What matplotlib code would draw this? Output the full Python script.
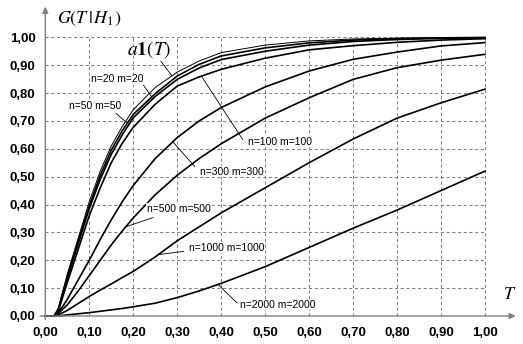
import numpy as np
import matplotlib
matplotlib.use('Agg')
import matplotlib.pyplot as plt

# threshold T (shared by every curve)
T = [0.0, 0.02, 0.03, 0.04, 0.05, 0.075, 0.1, 0.125, 0.15, 0.175, 0.2,
     0.25, 0.3, 0.35, 0.4, 0.5, 0.6, 0.7, 0.8, 0.9, 1.0]

# asymptotic curve a1(T)
a1 = [0, 0, 0.03, 0.09, 0.15, 0.28, 0.41, 0.52, 0.61, 0.68, 0.74,
      0.82, 0.875, 0.915, 0.945, 0.972, 0.987, 0.994, 0.997, 0.999, 1.0]

# G(T|H1) for n = m
g20 = [0, 0, 0.025, 0.085, 0.14, 0.27, 0.395, 0.505, 0.595, 0.665, 0.723,
       0.798, 0.861, 0.903, 0.933, 0.962, 0.98, 0.99, 0.995, 0.998, 0.999]
g50 = [0, 0, 0.025, 0.08, 0.135, 0.26, 0.385, 0.49, 0.58, 0.65, 0.711,
       0.788, 0.849, 0.89, 0.92, 0.95, 0.972, 0.985, 0.992, 0.996, 0.998]
g100 = [0, 0, 0.02, 0.07, 0.12, 0.24, 0.36, 0.46, 0.55, 0.62, 0.677,
        0.76, 0.825, 0.858, 0.885, 0.925, 0.955, 0.97, 0.982, 0.99, 0.995]
g300 = [0, 0, 0.015, 0.035, 0.06, 0.13, 0.2, 0.275, 0.345, 0.41, 0.468,
        0.565, 0.64, 0.7, 0.748, 0.822, 0.879, 0.921, 0.947, 0.969, 0.981]
g500 = [0, 0, 0.01, 0.025, 0.04, 0.09, 0.145, 0.2, 0.255, 0.305, 0.352,
        0.435, 0.505, 0.565, 0.618, 0.71, 0.783, 0.849, 0.891, 0.918, 0.939]
g1000 = [0, 0, 0.005, 0.012, 0.02, 0.045, 0.07, 0.093, 0.115, 0.138, 0.16,
         0.212, 0.27, 0.32, 0.37, 0.46, 0.55, 0.635, 0.71, 0.765, 0.814]
g2000 = [0, 0, 0.001, 0.002, 0.004, 0.008, 0.012, 0.017, 0.022, 0.027, 0.033,
         0.046, 0.066, 0.09, 0.117, 0.177, 0.246, 0.315, 0.38, 0.45, 0.52]

curves = [g20, g50, g100, g300, g500, g1000, g2000]
names = ['n=20 m=20', 'n=50 m=50', 'n=100 m=100', 'n=300 m=300',
         'n=500 m=500', 'n=1000 m=1000', 'n=2000 m=2000']

ticks = np.round(np.arange(0, 1.01, 0.1), 2)
tick_labels = [('%.2f' % v).replace('.', ',') for v in ticks]

# label placement: text anchor, leader start, T where leader hits curve
label_xy = [(0.105, 0.849), (0.055, 0.752), (0.461, 0.626), (0.352, 0.518),
            (0.231, 0.385), (0.327, 0.245), (0.442, 0.040)]
lead_from = [(0.222, 0.831), (0.161, 0.727), (0.449, 0.633), (0.340, 0.536),
             (0.245, 0.353), (0.315, 0.232), (0.436, 0.047)]
lead_T = [0.242, 0.19, 0.355, 0.29, 0.183, 0.257, 0.393]

plt.rcParams['font.family'] = ['Liberation Sans', 'DejaVu Sans']
plt.rcParams['mathtext.fontset'] = 'stix'

W, H = 523, 344
fig = plt.figure(figsize=(W / 100., H / 100.), dpi=100)
ax = fig.add_axes([45.3 / W, 28. / H, (485 - 45.3) / W, (316 - 37.3) / H])
ax.set_xlim(0, 1)
ax.set_ylim(0, 1)
for s in ax.spines.values():
    s.set_visible(False)

gc = '#808080'
# dashed grid, drawn by hand so the 1,00 lines are not clipped
ax.vlines(ticks[1:], 0, 1, colors=gc, linestyles=(0, (3, 2.5)), lw=0.75, clip_on=False)
ax.hlines(ticks[1:], 0, 1, colors=gc, linestyles=(0, (3, 2.5)), lw=0.75, clip_on=False)

# axes with arrows
ax.annotate('', xy=(1.07, 0), xytext=(-0.012, 0), xycoords='data',
            arrowprops=dict(arrowstyle='-|>', color=gc, lw=1.0, mutation_scale=9,
                            shrinkA=0, shrinkB=0), annotation_clip=False)
ax.annotate('', xy=(0, 1.11), xytext=(0, -0.012), xycoords='data',
            arrowprops=dict(arrowstyle='-|>', color=gc, lw=1.0, mutation_scale=9,
                            shrinkA=0, shrinkB=0), annotation_clip=False)

ax.set_xticks(ticks)
ax.set_xticklabels(tick_labels, fontweight='bold', fontsize=9.5)
ax.set_yticks(ticks)
ax.set_yticklabels(tick_labels, fontweight='bold', fontsize=9.5)
ax.tick_params(length=0, pad=8, axis='x')
ax.tick_params(length=0, pad=7, axis='y')

# curves
ax.plot(T, a1, color='k', lw=0.7, clip_on=False)
for c in curves:
    ax.plot(T, c, color='k', lw=1.2, clip_on=False)

# labels with leader lines
for name, c, xy, fr, tl in zip(names, curves, label_xy, lead_from, lead_T):
    ax.plot([fr[0], tl], [fr[1], np.interp(tl, T, c)], color='k', lw=0.6)
    ax.text(xy[0], xy[1], name, fontsize=7.5, ha='left', va='center',
            bbox=dict(facecolor='white', edgecolor='none', pad=0.3))

ax.plot([0.263, 0.288], [0.914, np.interp(0.288, T, a1)], color='k', lw=0.6)
ax.text(0.186, 0.957, r'$a\mathbf{1}(T)$', fontsize=14, ha='left', va='center')

ax.text(0.027, 1.065, r'$G\left(T\,|\,H_1\right)$', fontsize=13, ha='left', va='center')
ax.text(1.056, 0.076, r'$T$', fontsize=13, ha='center', va='center')

fig.savefig('out.png', dpi=100, facecolor='white')
